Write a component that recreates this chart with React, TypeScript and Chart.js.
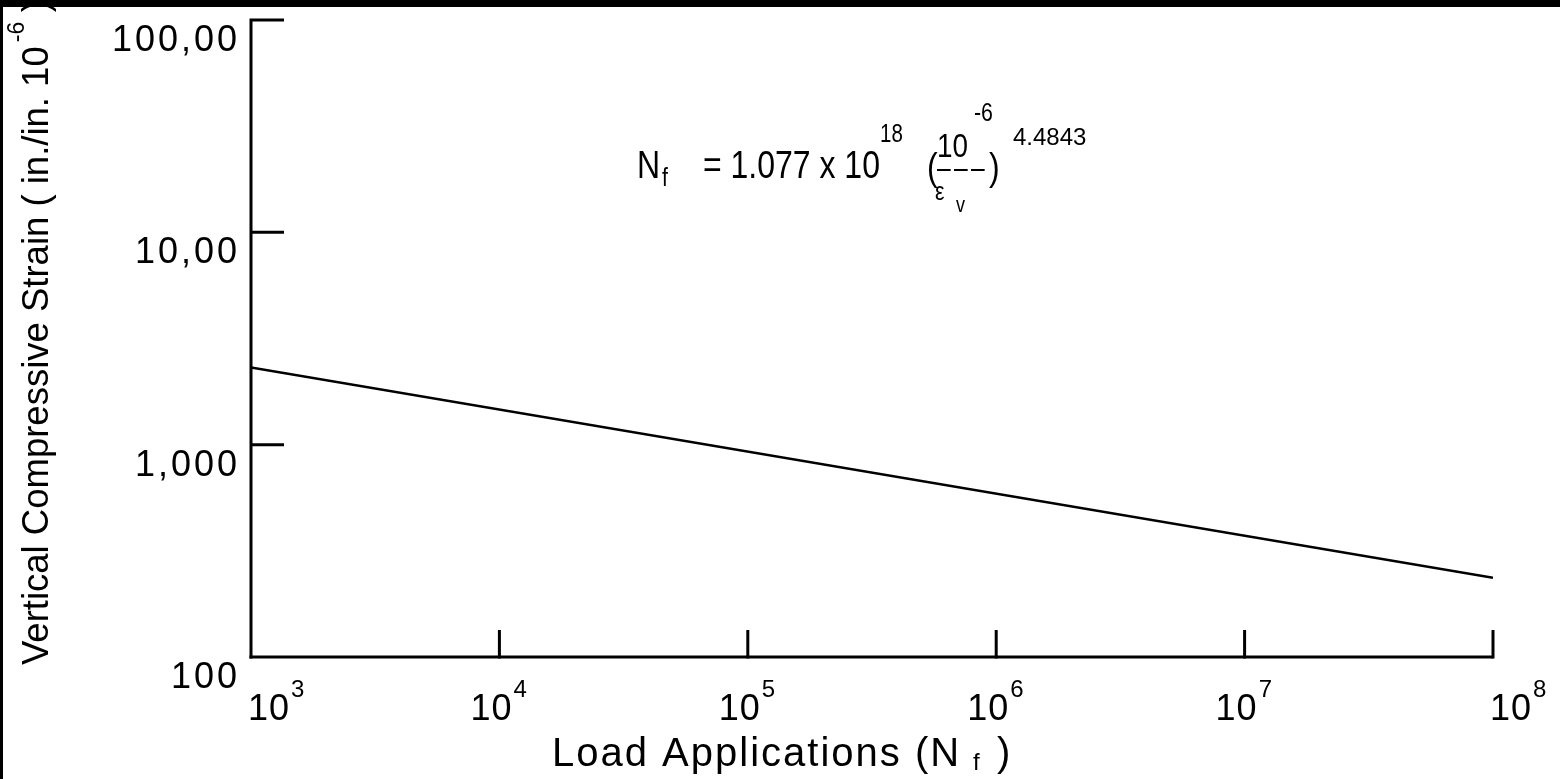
import React, { useEffect, useRef } from "react";
import { Chart, registerables } from "chart.js";

Chart.register(...registerables);

// ---- data ----
const loadApplications = [1e3, 1e8];
const strainValues = [2310, 236];
const xTickExponents = [3, 4, 5, 6, 7, 8];
const yTickValues = [100000, 10000, 1000, 100];
const yTickLabels = ["100,00", "10,00", "1,000", "100"];
const xAxisTitleMain = "Load Applications (N";
const yAxisTitleMain = "Vertical Compressive Strain ( in./in. 10";

const FONT = '"Liberation Sans", Arial, Helvetica, sans-serif';

function txt(
  ctx: CanvasRenderingContext2D,
  s: string,
  x: number,
  y: number,
  size: number,
  align: CanvasTextAlign = "left",
  spacing = 0,
  hscale = 1
) {
  ctx.save();
  ctx.font = `${size}px ${FONT}`;
  (ctx as any).letterSpacing = `${spacing}px`;
  ctx.textAlign = align;
  ctx.textBaseline = "alphabetic";
  ctx.translate(x, y);
  ctx.scale(hscale, 1);
  ctx.fillText(s, 0, 0);
  const w = ctx.measureText(s).width * hscale;
  ctx.restore();
  return w;
}

export default function App() {
  const ref = useRef<HTMLCanvasElement>(null);

  useEffect(() => {
    document.body.style.margin = "0";
    const canvas = ref.current!;

    const decor = {
      id: "decor",
      afterDraw(chart: any) {
        const ctx: CanvasRenderingContext2D = chart.ctx;
        const xs = chart.scales.x;
        const ys = chart.scales.y;
        const W = chart.width;
        const H = chart.height;
        ctx.save();
        ctx.fillStyle = "#000";
        ctx.strokeStyle = "#000";

        const x0 = xs.getPixelForValue(1e3);
        const x1 = xs.getPixelForValue(1e8);
        const yTop = ys.getPixelForValue(1e5);
        const yBot = ys.getPixelForValue(100);

        ctx.lineWidth = 3;
        ctx.lineCap = "butt";
        // y axis + top stub + ticks
        ctx.beginPath();
        ctx.moveTo(x0 + 33, yTop);
        ctx.lineTo(x0, yTop);
        ctx.lineTo(x0, yBot + 1.5);
        ctx.stroke();
        [1e4, 1e3].forEach((v) => {
          const py = ys.getPixelForValue(v);
          ctx.beginPath();
          ctx.moveTo(x0, py);
          ctx.lineTo(x0 + 33, py);
          ctx.stroke();
        });
        // x axis + ticks
        ctx.beginPath();
        ctx.moveTo(x0 - 1.5, yBot);
        ctx.lineTo(x1, yBot);
        ctx.stroke();
        xTickExponents.slice(1).forEach((e) => {
          const px = xs.getPixelForValue(Math.pow(10, e));
          ctx.beginPath();
          ctx.moveTo(px, yBot + 1.5);
          ctx.lineTo(px, yBot - 27);
          ctx.stroke();
        });

        // y tick labels
        yTickValues.forEach((v, i) => {
          const py = ys.getPixelForValue(v);
          txt(ctx, yTickLabels[i], x0 - 11, py + 31, 36, "right", 3);
        });

        // x tick labels
        xTickExponents.forEach((e, i) => {
          const px = xs.getPixelForValue(Math.pow(10, e));
          const last = i === xTickExponents.length - 1;
          const lx = i === 0 || last ? px - 3 : px - 29;
          const w = txt(ctx, "10", lx, yBot + 63, 36, "left", 1);
          txt(ctx, String(e), lx + w + 1, yBot + 40, 24, "left");
        });

        // x title
        {
          const sx = 552;
          const by = 766;
          const w = txt(ctx, xAxisTitleMain, sx, by, 40, "left", 2);
          txt(ctx, "f", sx + w + 12, by + 4, 24, "left");
          txt(ctx, ")", sx + w + 36, by, 40, "left");
        }

        // y title (rotated)
        {
          ctx.save();
          ctx.translate(48, 665);
          ctx.rotate(-Math.PI / 2);
          const w = txt(ctx, yAxisTitleMain, 0, 0, 36.5, "left", 0);
          txt(ctx, "-6", w + 4, -24, 23, "left");
          txt(ctx, ")", w + 34, 0, 36.5, "left");
          ctx.restore();
        }

        // formula (condensed lettering)
        const n = 0.82;
        txt(ctx, "N", 637, 178, 39, "left", 0, n);
        txt(ctx, "f", 662, 186, 26, "left", 0, n);
        txt(ctx, "= 1.077 x 10", 703, 178, 39, "left", 0, n);
        txt(ctx, "18", 880, 142, 25, "left", 0, n);
        txt(ctx, "(", 927, 180, 39, "left", 0, n);
        txt(ctx, "10", 937, 157, 34, "left", 0, n);
        txt(ctx, "–––", 937, 178, 30, "left", 4, n);
        txt(ctx, ")", 989, 180, 39, "left", 0, n);
        txt(ctx, "-6", 974, 121, 26, "left", 0, n);
        txt(ctx, "4.4843", 1013, 145, 24, "left", 0, 1);
        txt(ctx, "ε", 935, 200, 26, "left", 0, n);
        txt(ctx, "v", 956, 212, 22, "left", 0, n);

        // frame bars (drawn last so they overlap text at edges)
        ctx.fillRect(0, 0, W, 7);
        ctx.fillRect(0, 0, 3, H);

        ctx.restore();
      },
    };

    const chart = new Chart(canvas, {
      type: "line",
      data: {
        datasets: [
          {
            data: loadApplications.map((x, i) => ({ x, y: strainValues[i] })),
            borderColor: "#000",
            borderWidth: 2.5,
            pointRadius: 0,
            fill: false,
            tension: 0,
          },
        ],
      },
      options: {
        animation: false,
        responsive: false,
        maintainAspectRatio: false,
        layout: { padding: { left: 251, top: 20, right: 67, bottom: 122 } },
        plugins: { legend: { display: false }, tooltip: { enabled: false } },
        scales: {
          x: { type: "logarithmic", min: 1e3, max: 1e8, display: false },
          y: { type: "logarithmic", min: 100, max: 1e5, display: false },
        },
      },
      plugins: [decor],
    });
    return () => chart.destroy();
  }, []);

  return (
    <canvas
      ref={ref}
      width={1560}
      height={779}
      style={{ display: "block", background: "#fff" }}
    />
  );
}
